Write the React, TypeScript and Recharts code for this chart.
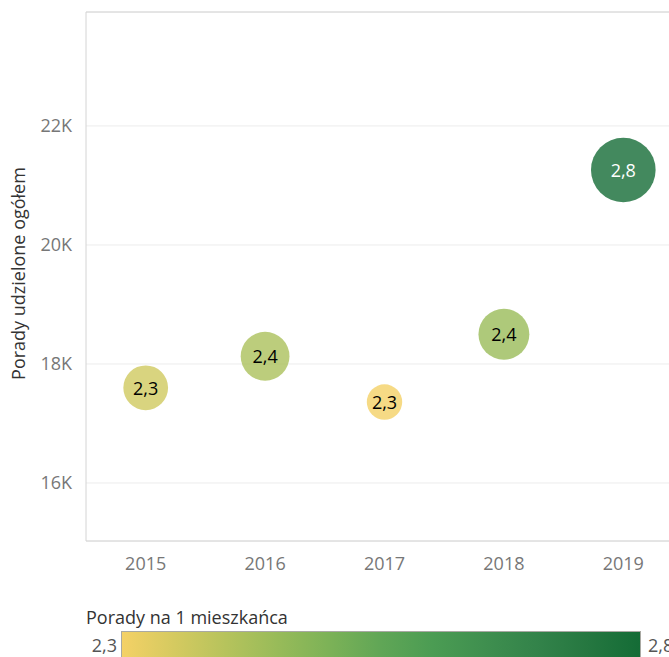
import { ScatterChart, Scatter, XAxis, YAxis, ZAxis, CartesianGrid, ReferenceLine, LabelList, Cell } from 'recharts';

// lata
const years = [2015, 2016, 2017, 2018, 2019];
// Porady udzielone ogółem
const totalAdvice = [17600, 18130, 17360, 18500, 21260];
// Porady na 1 mieszkańca
const perCapita = [2.33, 2.39, 2.27, 2.42, 2.78];
// miara rozmiaru bąbla (względna, % maksimum)
const sizeMeasure = [48, 57, 30, 62, 100];

const yTicks = [16000, 18000, 20000, 22000];
const yDomain = [15025, 23915];

// skala kolorów green-gold
const goldGreen = ['#f4d166', '#d5ca60', '#b6c35c', '#98bb59', '#7cb257', '#60a656', '#4b9c53', '#3f8f4f', '#33834a', '#257740', '#146c36'];

const minPc = Math.min(...perCapita);
const maxPc = Math.max(...perCapita);

const hexToRgb = (h: string) => [1, 3, 5].map((i) => parseInt(h.slice(i, i + 2), 16));

const colorFor = (v: number) => {
  const t = Math.max(0, Math.min(1, (v - minPc) / (maxPc - minPc)));
  const pos = t * (goldGreen.length - 1);
  const i = Math.min(Math.floor(pos), goldGreen.length - 2);
  const f = pos - i;
  const a = hexToRgb(goldGreen[i]);
  const b = hexToRgb(goldGreen[i + 1]);
  const c = a.map((x, k) => Math.round(x + (b[k] - x) * f));
  return `rgb(${c[0]},${c[1]},${c[2]})`;
};

const fmt = (v: number) => v.toFixed(1).replace('.', ',');

const data = years.map((rok, i) => ({
  rok,
  porady: totalAdvice[i],
  naMieszkanca: perCapita[i],
  rozmiar: sizeMeasure[i],
}));

const FONT = '"Open Sans", Lato, sans-serif';

const renderBubbleLabel = (props: any) => {
  const { x, y, width, height, value } = props;
  const cx = x + (width || 0) / 2;
  const cy = y + (height || 0) / 2;
  return (
    <text
      x={cx}
      y={cy}
      textAnchor="middle"
      dominantBaseline="central"
      fill={value > 2.6 ? '#ffffff' : '#000000'}
      style={{ fontFamily: FONT, fontSize: 18 }}
    >
      {fmt(value)}
    </text>
  );
};

const renderYTitle = (props: any) => {
  const vb = props.viewBox || { y: 12, height: 529 };
  const cy = vb.y + vb.height / 2 - 3;
  return (
    <text
      x={18}
      y={cy}
      transform={`rotate(-90, 18, ${cy})`}
      textAnchor="middle"
      dominantBaseline="central"
      fill="#333333"
      style={{ fontFamily: FONT, fontSize: 18 }}
    >
      Porady udzielone ogółem
    </text>
  );
};

export default function App() {
  return (
    <div style={{ position: 'absolute', left: 0, top: 0, width: 669, height: 657, overflow: 'hidden', background: '#fff' }}>
      <ScatterChart width={700} height={600} margin={{ top: 12, right: 17, bottom: 0, left: 0 }}>
        <CartesianGrid vertical={false} stroke="#ececec" />
        <XAxis
          type="number"
          dataKey="rok"
          domain={[2014.5, 2019.5]}
          ticks={years}
          tickFormatter={(v) => String(v)}
          height={59}
          axisLine={{ stroke: '#d4d4d4' }}
          tickLine={false}
          tickSize={0}
          tickMargin={16}
          tick={{ fill: '#777777', fontSize: 18, fontFamily: FONT }}
        />
        <YAxis
          type="number"
          dataKey="porady"
          domain={yDomain}
          ticks={yTicks}
          allowDataOverflow
          tickFormatter={(v) => `${v / 1000}K`}
          width={86}
          axisLine={{ stroke: '#d4d4d4' }}
          tickLine={false}
          tickSize={0}
          tickMargin={14}
          tick={{ fill: '#777777', fontSize: 18, fontFamily: FONT }}
          label={renderYTitle}
        />
        <ZAxis type="number" dataKey="rozmiar" domain={[0, 100]} range={[0, 3280]} />
        <ReferenceLine y={yDomain[1]} stroke="#d4d4d4" />
        <Scatter data={data} isAnimationActive={false} fillOpacity={0.8}>
          {data.map((d) => (
            <Cell key={d.rok} fill={colorFor(d.naMieszkanca)} />
          ))}
          <LabelList dataKey="naMieszkanca" content={renderBubbleLabel} />
        </Scatter>
      </ScatterChart>

      <div style={{ position: 'absolute', left: 86, top: 605, fontFamily: FONT, fontSize: 18, color: '#333', lineHeight: '24px', whiteSpace: 'nowrap' }}>
        Porady na 1 mieszkańca
      </div>
      <div
        style={{
          position: 'absolute',
          left: 121,
          top: 631,
          width: 518,
          height: 30,
          border: '1px solid #a9a9a3',
          background: `linear-gradient(to right, ${goldGreen.join(', ')})`,
        }}
      />
      <div style={{ position: 'absolute', right: 669 - 117, top: 633, fontFamily: FONT, fontSize: 18, color: '#555', lineHeight: '24px' }}>
        {fmt(minPc)}
      </div>
      <div style={{ position: 'absolute', left: 648, top: 633, fontFamily: FONT, fontSize: 18, color: '#555', lineHeight: '24px', whiteSpace: 'nowrap' }}>
        {fmt(maxPc)}
      </div>
    </div>
  );
}
